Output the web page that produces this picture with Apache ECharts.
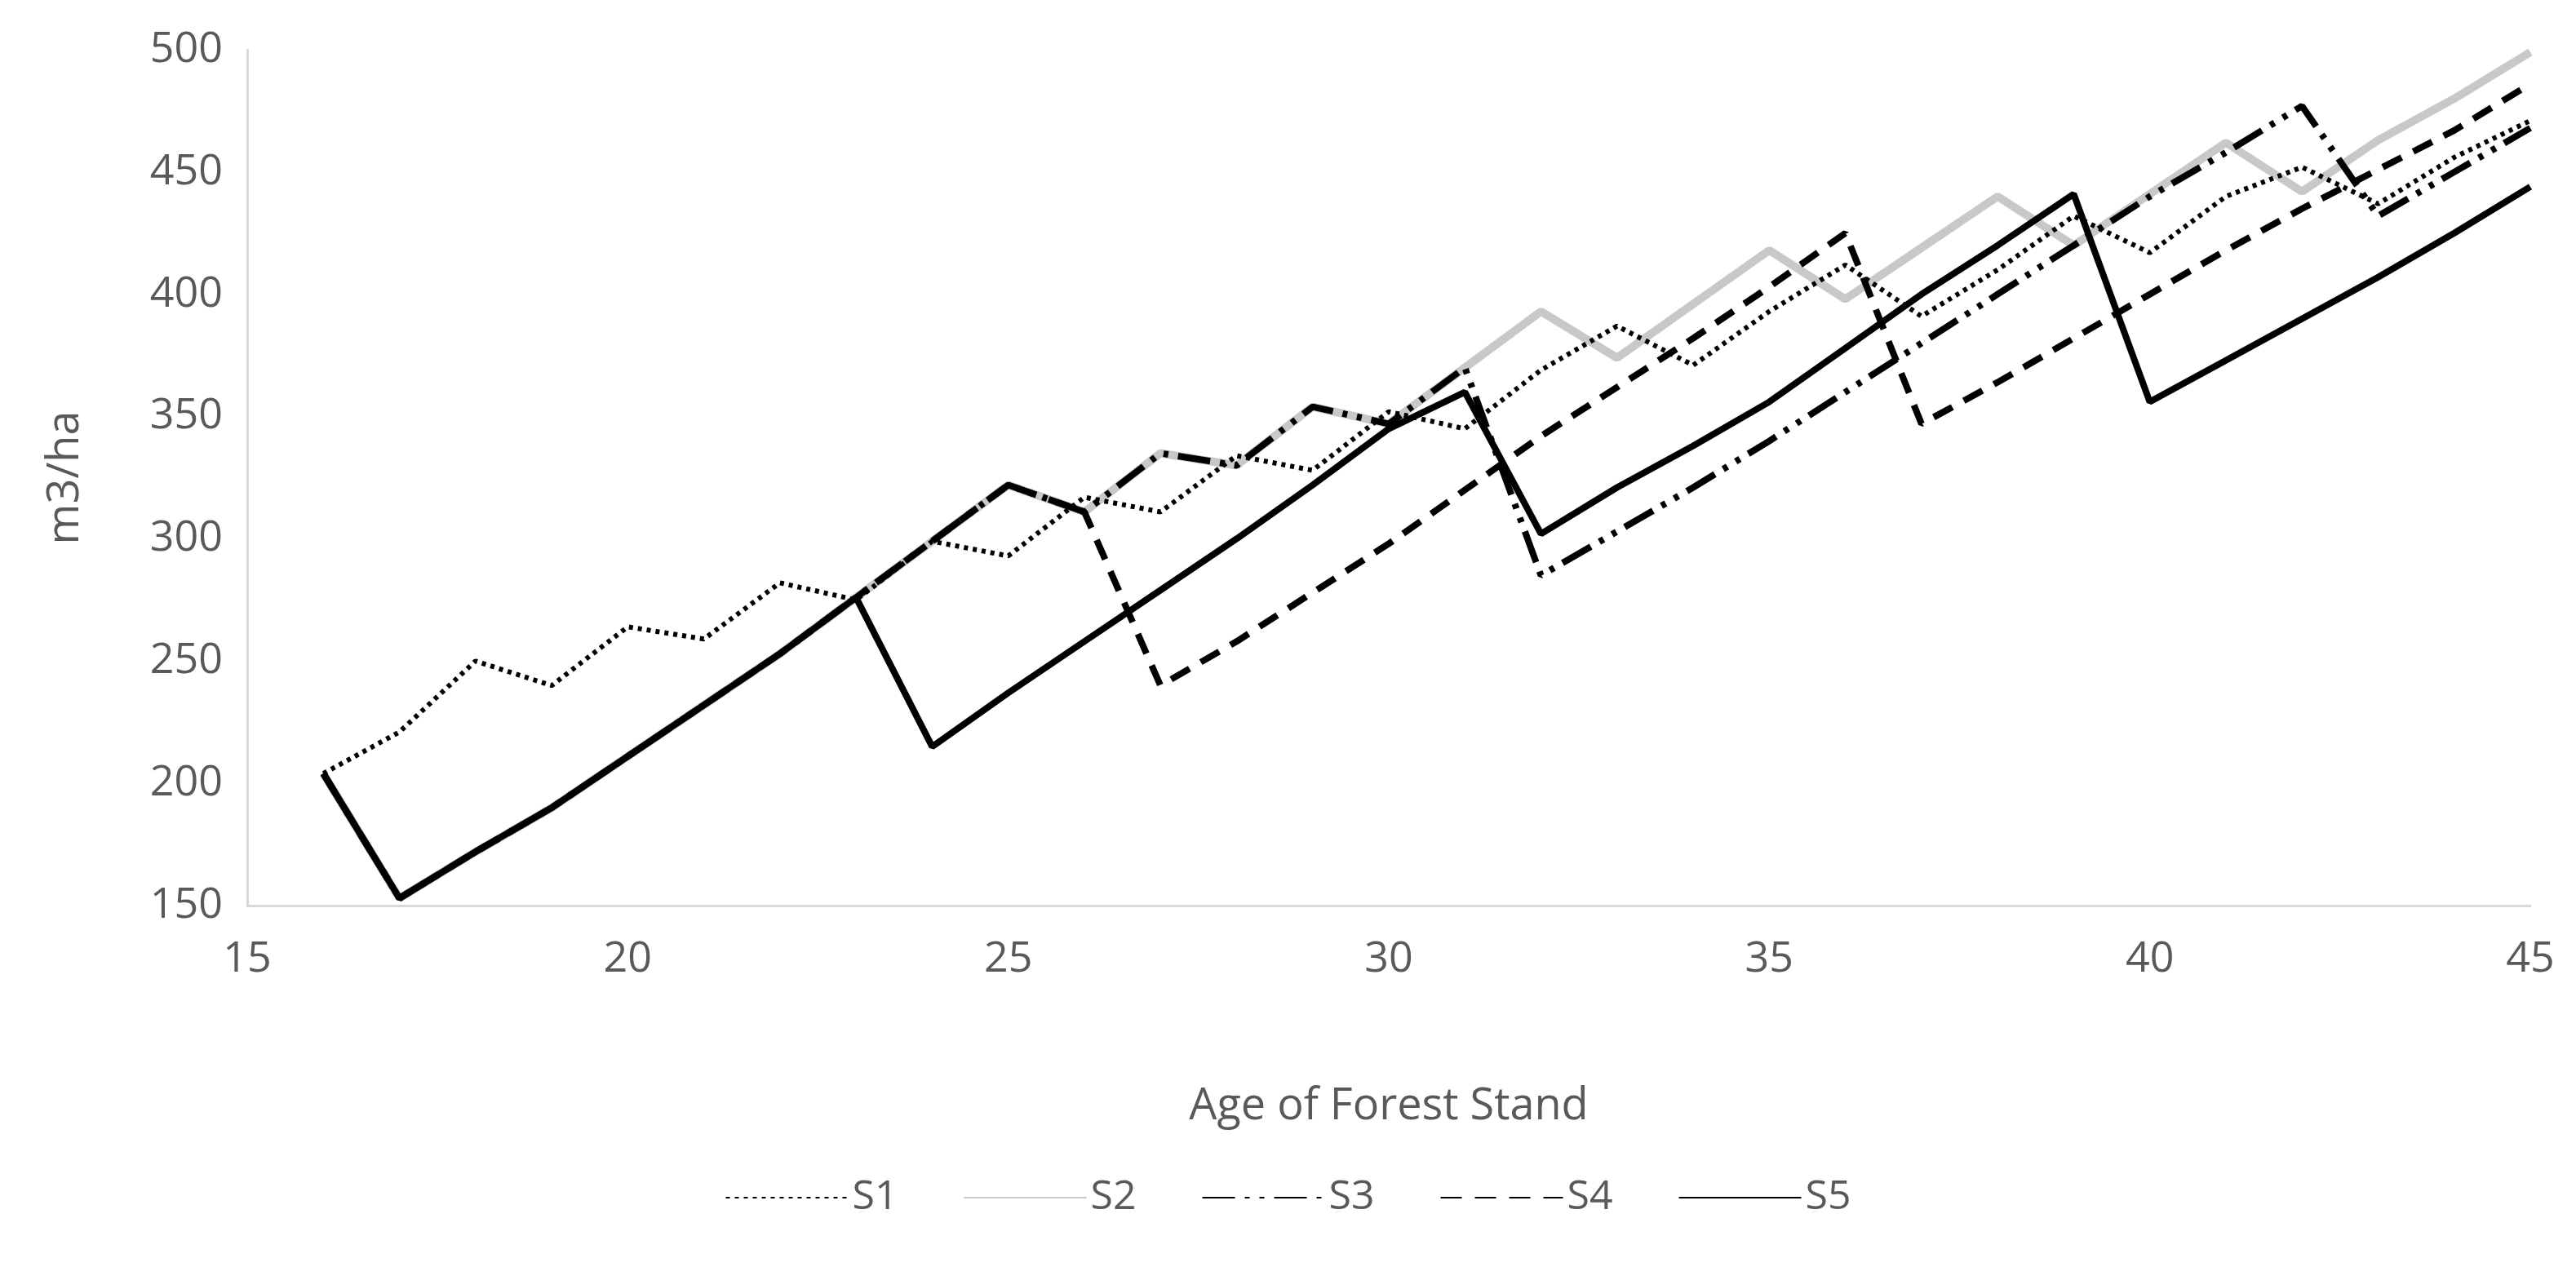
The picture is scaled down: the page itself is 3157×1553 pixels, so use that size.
<!DOCTYPE html>
<html>
<head>
<meta charset="utf-8">
<script src="https://cdn.jsdelivr.net/npm/echarts@6/dist/echarts.min.js"></script>
<style>html,body{margin:0;padding:0;background:#fff}#main{width:3157px;height:1553px}</style>
</head>
<body>
<div id="main"></div>
<script>
//x轴 林龄
var ages = [16,17,18,19,20,21,22,23,24,25,26,27,28,29,30,31,32,33,34,35,36,37,38,39,40,41,42,43,44,45];
var s1 = [204,221,250,240,264,259,282,275,299,293,317,311,334,328,352,345,369,387,371,393,412,391,410,432,417,440,452,437,456,471];
var s2 = [204,153,172,190,211,232,253,276,299,322,311,335,330,354,347,370,393,374,396,418,398,419,440,420,441,462,442,463,480,499];
var s3 = [204,153,172,190,211,232,253,276,299,322,311,335,330,354,347,370,285,303,321,340,360,380,400,420,440,458,477,432,450,468];
var s4 = [204,153,172,190,211,232,253,276,299,322,311,240,258,278,298,320,342,362,382,403,425,347,364,382,400,418,435,451,467,486];
var s5 = [204,153,172,190,211,232,253,276,215,237,258,279,300,322,345,360,302,321,338,356,378,400,420,441,356,373,390,407,425,444];

function pairs(arr){
    return arr.map(function(v,i){return [ages[i],v];});
}
var font = '"Open Sans", Lato, sans-serif';
var myChart = echarts.init(document.getElementById('main'));
var option = {
    animation:false,
    textStyle:{fontFamily:font},
    grid:{left:303,right:56,top:61,bottom:443},
    legend:{
        bottom:55,
        left:'center',
        itemWidth:150,
        itemHeight:20,
        itemGap:80,
        itemStyle:{color:'transparent',borderWidth:0},
        textStyle:{fontSize:50,color:'#595959',fontFamily:font},
        data:['S1','S2','S3','S4','S5']
    },
    xAxis:{
        type:'value',min:15,max:45,interval:5,
        name:'Age of Forest Stand',nameLocation:'middle',nameGap:220,
        nameTextStyle:{fontSize:54,color:'#595959'},
        axisLine:{lineStyle:{color:'#d9d9d9',width:3}},
        axisTick:{show:false},
        axisLabel:{fontSize:52,color:'#595959',margin:40},
        splitLine:{show:false}
    },
    yAxis:{
        type:'value',min:150,max:500,interval:50,
        name:'m3/ha',nameLocation:'middle',nameGap:195,
        nameTextStyle:{fontSize:54,color:'#595959'},
        axisLine:{show:true,lineStyle:{color:'#d9d9d9',width:3}},
        axisTick:{show:false},
        axisLabel:{fontSize:52,color:'#595959',margin:30},
        splitLine:{show:false}
    },
    series:[
        {name:'S2',type:'line',data:pairs(s2),symbol:'none',z:1,
            itemStyle:{color:'#c8c8c8'},lineStyle:{color:'#c8c8c8',width:10}},
        {name:'S1',type:'line',data:pairs(s1),symbol:'none',z:3,
            itemStyle:{color:'#000'},lineStyle:{color:'#000',width:6,type:[5,6]}},
        {name:'S3',type:'line',data:pairs(s3),symbol:'none',z:2,
            itemStyle:{color:'#000'},lineStyle:{color:'#000',width:8,type:[40,12,6,12,6,12]}},
        {name:'S4',type:'line',data:pairs(s4),symbol:'none',z:2,
            itemStyle:{color:'#000'},lineStyle:{color:'#000',width:8,type:[26,16]}},
        {name:'S5',type:'line',data:pairs(s5),symbol:'none',z:4,
            itemStyle:{color:'#000'},lineStyle:{color:'#000',width:8}}
    ]
};
myChart.setOption(option);
</script>
</body>
</html>
